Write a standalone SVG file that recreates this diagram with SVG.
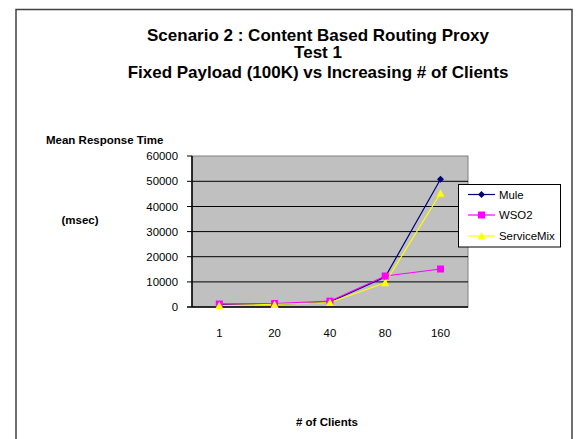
<svg xmlns="http://www.w3.org/2000/svg" width="587" height="439" viewBox="0 0 587 439">
<style>
.t{font-family:"Liberation Sans",Arial,sans-serif;fill:#000}
.title{font-size:17px;font-weight:bold;text-anchor:middle}
.ax{font-size:11.5px;font-weight:bold}
.tick{font-size:11.4px}
.grid{stroke:#000;stroke-width:1}
.mule{fill:none;stroke:#000080;stroke-width:1.2}
.wso2{fill:none;stroke:#FF00FF;stroke-width:1.2}
.smix{fill:none;stroke:#FFFF00;stroke-width:1.2}
</style>
<defs>
<path id="dia" d="M0,-3.5 L3.5,0 L0,3.5 L-3.5,0 Z" fill="#000080"/>
<rect id="sq" x="-3.5" y="-3.5" width="7" height="7" fill="#FF00FF"/>
<path id="tri" d="M0,-4 L4,3.5 L-4,3.5 Z" fill="#FFFF00"/>
</defs>
<rect x="0" y="0" width="587" height="439" fill="#fff"/>
<rect id="frame" x="16" y="9.5" width="556" height="440" fill="#fff" stroke="#404040" stroke-width="1.5"/>
<g id="title" class="t title">
<text x="318" y="40.5">Scenario 2 : Content Based Routing Proxy</text>
<text x="318" y="58">Test 1</text>
<text x="318" y="77.5">Fixed Payload (100K) vs Increasing # of Clients</text>
</g>
<text class="t ax" x="46" y="144">Mean Response Time</text>
<text class="t ax" x="61.5" y="224">(msec)</text>
<text class="t ax" x="327" y="426" text-anchor="middle"># of Clients</text>
<g id="plot">
<rect x="192" y="156" width="276" height="151" fill="#C0C0C0" stroke="#808080" stroke-width="1"/>
<g class="grid">
<line x1="187" y1="181.3" x2="468" y2="181.3"/>
<line x1="187" y1="206.5" x2="468" y2="206.5"/>
<line x1="187" y1="231.6" x2="468" y2="231.6"/>
<line x1="187" y1="256.7" x2="468" y2="256.7"/>
<line x1="187" y1="281.9" x2="468" y2="281.9"/>
<line x1="187" y1="156" x2="192" y2="156"/>
</g>
<line x1="187" y1="307" x2="468" y2="307" stroke="#000" stroke-width="1.5"/>
<line x1="192" y1="156" x2="192" y2="307" stroke="#000" stroke-width="1.5"/>
</g>
<g id="yticks" class="t tick" text-anchor="end">
<text x="178" y="160">60000</text>
<text x="178" y="185.3">50000</text>
<text x="178" y="210.5">40000</text>
<text x="178" y="235.6">30000</text>
<text x="178" y="260.7">20000</text>
<text x="178" y="285.9">10000</text>
<text x="178" y="311">0</text>
</g>
<g id="xticks" class="t tick" text-anchor="middle">
<text x="219.3" y="337">1</text>
<text x="274.6" y="337">20</text>
<text x="329.9" y="337">40</text>
<text x="385.2" y="337">80</text>
<text x="440.5" y="337">160</text>
</g>
<g id="connectors">
<polyline id="mule-line" class="mule" points="219.3,304.3 274.6,304.3 329.9,301.8 385.2,277 440.5,179.3"/>
<polyline id="wso2-line" class="wso2" points="219.3,304 274.6,303.5 329.9,301.2 385.2,276 440.5,269"/>
<polyline id="smix-line" class="smix" points="219.3,305.5 274.6,304.4 329.9,302.5 385.2,282.7 440.5,193.3"/>
</g>
<g id="mule-markers">
<use href="#dia" x="219.3" y="304.3"/><use href="#dia" x="274.6" y="304.3"/><use href="#dia" x="329.9" y="301.8"/><use href="#dia" x="385.2" y="277"/><use href="#dia" x="440.5" y="179.3"/>
</g>
<g id="wso2-markers">
<use href="#sq" x="219.3" y="304"/><use href="#sq" x="274.6" y="303.5"/><use href="#sq" x="329.9" y="301.2"/><use href="#sq" x="385.2" y="276"/><use href="#sq" x="440.5" y="269"/>
</g>
<g id="smix-markers">
<use href="#tri" x="219.3" y="305.5"/><use href="#tri" x="274.6" y="304.4"/><use href="#tri" x="329.9" y="302.5"/><use href="#tri" x="385.2" y="282.7"/><use href="#tri" x="440.5" y="193.3"/>
</g>
<g id="legend">
<rect x="458.5" y="184.5" width="102" height="62.5" fill="#fff" stroke="#000" stroke-width="1"/>
<line class="mule" x1="468" y1="194.5" x2="495" y2="194.5"/><use href="#dia" x="481.5" y="194.5"/>
<text class="t tick" x="499" y="198.5">Mule</text>
<line class="wso2" x1="468" y1="215" x2="495" y2="215"/><use href="#sq" x="481.5" y="215"/>
<text class="t tick" x="499" y="219">WSO2</text>
<line class="smix" x1="468" y1="236" x2="495" y2="236"/><use href="#tri" x="481.5" y="236"/>
<text class="t tick" x="499" y="240">ServiceMix</text>
</g>
</svg>
